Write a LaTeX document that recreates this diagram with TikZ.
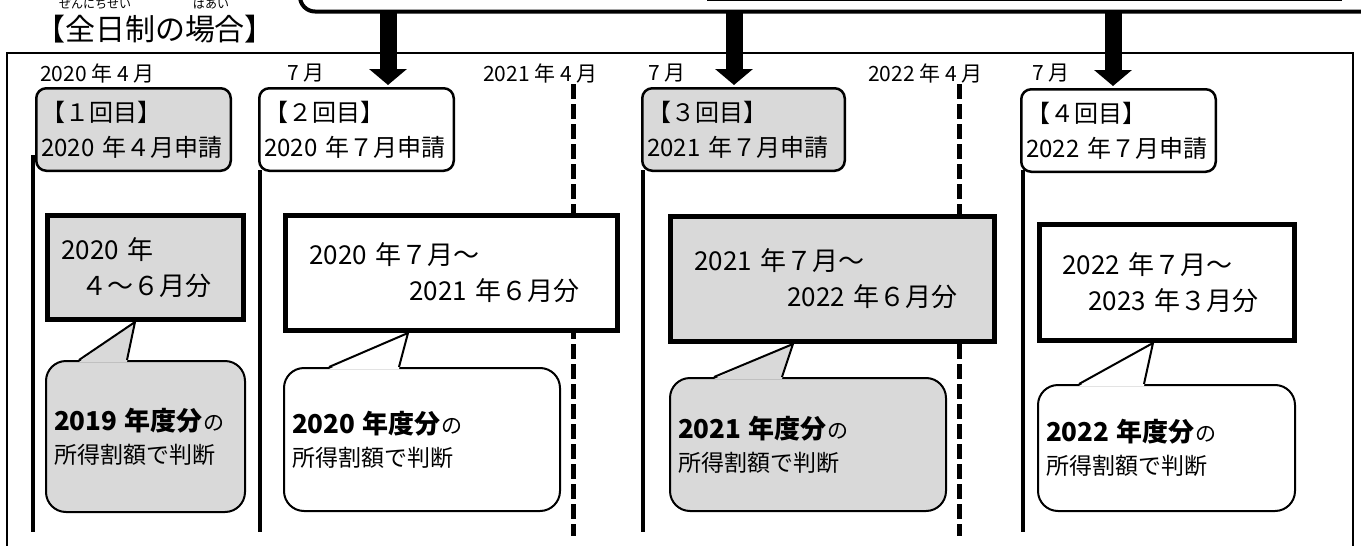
\documentclass[tikz,border=0pt]{standalone}
\usepackage{fontspec}
\setmainfont{Noto Sans CJK JP}
\usetikzlibrary{arrows.meta, positioning, calc}
\definecolor{boxgray}{HTML}{D9D9D9}

\begin{document}
\begin{tikzpicture}[x=1pt, y=-1pt,
    appbox/.style={draw, line width=2.5pt, rounded corners=10pt, align=left, inner xsep=5pt, inner ysep=0pt, font=\fontsize{24}{35}\selectfont},
    periodbox/.style={draw, line width=5pt, align=left, inner ysep=0pt, font=\fontsize{26}{36}\selectfont},
    callout/.style={draw, line width=2pt, rounded corners=20pt, align=left, inner xsep=8pt, inner ysep=0pt, font=\fontsize{23}{33}\selectfont},
    tline/.style={line width=4pt},
    dline/.style={line width=5pt, dash pattern=on 15pt off 5pt},
    bigarrow/.style={line width=17pt, -{Triangle[width=37pt, length=16pt]}},
    month/.style={anchor=west, inner sep=0pt, font=\fontsize{21}{21}\selectfont}
]
\useasboundingbox (0,0) rectangle (1361,546);
\clip (0,0) rectangle (1361,546);

% Title with reading aids
\node[inner sep=0pt, font=\fontsize{30}{30}\selectfont] (title) at (155,29) {【全日制の場合】};
\node[inner sep=0pt, font=\fontsize{12}{12}\selectfont] (ruby1) at (95,4) {ぜんにちせい};
\node[inner sep=0pt, font=\fontsize{12}{12}\selectfont] (ruby2) at (211,4) {ばあい};

% Box above (cut off)
\draw[line width=1.5pt] (707,0.7) -- (1342,0.7);
\draw[line width=4pt, rounded corners=15pt] (300,-30) |- (1400,11.5);

% Outer frame
\draw[line width=1.5pt] (7,560) |- (1353,53) -- (1353,560);

% Months
\node[month] (m1) at (40,73) {2020 年 4 月};
\node[month] (m2) at (287,73) {7 月};
\node[month] (m3) at (483,73) {2021 年 4 月};
\node[month] (m4) at (648,73) {7 月};
\node[month] (m5) at (868,73) {2022 年 4 月};
\node[month] (m6) at (1032,73) {7 月};

% Time lines
\draw[tline] (33,155) -- (33,532);
\draw[tline] (260,170) -- (260,532);
\draw[tline] (643,170) -- (643,532);
\draw[tline] (1023,170) -- (1023,532);
\draw[dline] (573,84) -- (573,536);
\draw[dline] (959,84) -- (959,536);

% Applications
\node[appbox, fill=boxgray, text width=184.5pt, minimum height=82.5pt] (a1) at (133.5,129.5) {【１回目】\\2020 年４月申請};
\node[appbox, fill=white, text width=184.5pt, minimum height=82.5pt] (a2) at (356.5,129.5) {【２回目】\\2020 年７月申請};
\node[appbox, fill=boxgray, text width=192.5pt, minimum height=82.5pt] (a3) at (743.5,129.5) {【３回目】\\2021 年７月申請};
\node[appbox, fill=white, text width=184.5pt, minimum height=82.5pt] (a4) at (1118.5,130.5) {【４回目】\\2022 年７月申請};

% Arrows from the box above
\coordinate (top2) at (388,11.5);
\coordinate (top3) at (734,11.5);
\coordinate (top4) at (1113,11.5);
\draw[bigarrow] (top2) -- ([yshift=2pt]top2 |- a2.north);
\draw[bigarrow] (top3) -- ([yshift=2pt]top3 |- a3.north);
\draw[bigarrow] (top4) -- ([yshift=2pt]top4 |- a4.north);

% Periods
\node[periodbox, fill=boxgray, inner xsep=14pt, text width=168pt, minimum height=104pt] (p1) at (145.5,267.5) {2020 年\\\hspace*{20pt}４～６月分};
\node[periodbox, fill=white, inner xsep=24pt, text width=284pt, minimum height=115pt] (p2) at (451.5,273) {2020 年７月～\\\hspace*{100pt}2021 年６月分};
\node[periodbox, fill=boxgray, inner xsep=24pt, text width=276pt, minimum height=125pt] (p3) at (832.5,279) {2021 年７月～\\\hspace*{93pt}2022 年６月分};
\node[periodbox, fill=white, inner xsep=23pt, text width=209pt, minimum height=116pt] (p4) at (1167,282.5) {2022 年７月～\\\hspace*{26pt}2023 年３月分};

% Callouts
\node[callout, fill=boxgray, text width=183pt, minimum height=151pt] (c1) at (145.5,436.5) {{\fontsize{26}{33}\selectfont\bfseries 2019 年度分}{\fontsize{21}{33}\selectfont の}\\所得割額で判断};
\node[callout, fill=white, text width=260pt, minimum height=143pt] (c2) at (422,439.5) {{\fontsize{26}{33}\selectfont\bfseries 2020 年度分}{\fontsize{21}{33}\selectfont の}\\所得割額で判断};
\node[callout, fill=boxgray, text width=260pt, minimum height=133pt] (c3) at (808,444.5) {{\fontsize{26}{33}\selectfont\bfseries 2021 年度分}{\fontsize{21}{33}\selectfont の}\\所得割額で判断};
\node[callout, fill=white, text width=241pt, minimum height=126pt] (c4) at (1166.5,448) {{\fontsize{26}{33}\selectfont\bfseries 2022 年度分}{\fontsize{21}{33}\selectfont の}\\所得割額で判断};

% Pointers of the callouts
\coordinate (c1a) at ($(c1.north west)+(34,0)$);
\coordinate (c1b) at ($(c1.north west)+(82,0)$);
\coordinate (c1t) at (135,0 |- p1.south);
\fill[boxgray] ($(c1a)+(0,2)$) -- (c1t) -- ($(c1b)+(0,2)$) -- cycle;
\draw[line width=2pt] (c1a) -- (c1t) -- (c1b);

\coordinate (c2a) at ($(c2.north west)+(46,0)$);
\coordinate (c2b) at ($(c2.north west)+(116,0)$);
\coordinate (c2t) at (408,0 |- p2.south);
\fill[white] ($(c2a)+(0,2)$) -- (c2t) -- ($(c2b)+(0,2)$) -- cycle;
\draw[line width=2pt] (c2a) -- (c2t) -- (c2b);

\coordinate (c3a) at ($(c3.north west)+(45,0)$);
\coordinate (c3b) at ($(c3.north west)+(113,0)$);
\coordinate (c3t) at (793,0 |- p3.south);
\fill[boxgray] ($(c3a)+(0,2)$) -- (c3t) -- ($(c3b)+(0,2)$) -- cycle;
\draw[line width=2pt] (c3a) -- (c3t) -- (c3b);

\coordinate (c4a) at ($(c4.north west)+(42,0)$);
\coordinate (c4b) at ($(c4.north west)+(107,0)$);
\coordinate (c4t) at (1153,0 |- p4.south);
\fill[white] ($(c4a)+(0,2)$) -- (c4t) -- ($(c4b)+(0,2)$) -- cycle;
\draw[line width=2pt] (c4a) -- (c4t) -- (c4b);

\end{tikzpicture}
\end{document}
